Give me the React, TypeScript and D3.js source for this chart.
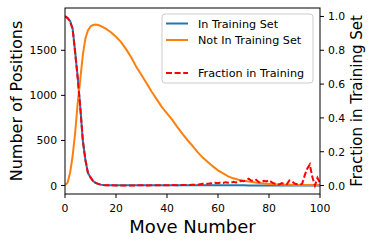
import * as d3 from "d3";

// move numbers sampled for the two count series
const moves = [
  0, 1, 2, 3, 4, 5, 6, 7, 8, 9, 10, 11, 12, 13, 14, 15, 16, 18, 20, 22, 24, 26, 28, 30,
  32, 34, 36, 38, 40, 42, 44, 46, 48, 50, 52, 54, 56, 58, 60, 62, 64, 66, 68, 70, 72, 74,
  76, 78, 80, 82, 84, 86, 88, 90, 92, 94, 96, 98, 100,
];
const inTraining = [
  1878, 1862, 1825, 1740, 1480, 1200, 867, 496, 286, 140, 90, 50, 30, 18, 10, 6, 4, 3, 3,
  2, 2, 2, 2, 2, 2, 2, 2, 2, 2, 2, 2, 2, 2, 2, 2, 2, 2, 2, 2, 2, 2, 2, 2, 2, 1, 1, 1, 1,
  1, 1, 1, 1, 1, 1, 1, 1, 1, 1, 1,
];
const notInTraining = [
  5, 30, 140, 330, 590, 920, 1180, 1450, 1630, 1720, 1765, 1780, 1785, 1780, 1770, 1755,
  1740, 1700, 1650, 1590, 1510, 1420, 1315, 1225, 1135, 1040, 955, 870, 800, 730, 650,
  575, 505, 440, 370, 310, 262, 212, 168, 135, 102, 80, 64, 54, 44, 36, 29, 23, 18, 14,
  11, 9, 8, 7, 6, 5, 5, 4, 4,
];

const fracMoves = [
  0, 1, 2, 3, 4, 5, 6, 7, 8, 9, 10, 11, 12, 13, 14, 15, 16, 18, 20, 22, 24, 26, 28, 30,
  32, 34, 36, 38, 40, 42, 44, 46, 48, 50, 51, 52, 53, 54, 55, 56, 57, 58, 59, 60, 61, 62,
  63, 64, 65, 66, 67, 68, 69, 70, 71, 72, 73, 74, 75, 76, 77, 78, 79, 80, 81, 82, 83, 84,
  85, 86, 87, 88, 89, 90, 91, 92, 93, 94, 95, 96, 97, 98, 99, 100,
];
const fraction = [
  1.0, 0.99, 0.97, 0.925, 0.78, 0.63, 0.46, 0.265, 0.15, 0.075, 0.048, 0.027, 0.016, 0.01,
  0.005, 0.003, 0.002, 0.002, 0.001, 0.001, 0.001, 0.001, 0.001, 0.002, 0.001, 0.002,
  0.002, 0.002, 0.002, 0.003, 0.002, 0.003, 0.003, 0.004, 0.004, 0.005, 0.008, 0.01,
  0.012, 0.01, 0.014, 0.012, 0.016, 0.014, 0.018, 0.015, 0.02, 0.017, 0.016, 0.022,
  0.018, 0.02, 0.028, 0.025, 0.032, 0.04, 0.03, 0.028, 0.034, 0.02, 0.018, 0.028, 0.024,
  0.032, 0.02, 0.012, 0.01, 0.006, 0.014, 0.01, 0.008, 0.03, 0.025, 0.012, 0.008, 0.004,
  0.01, 0.06, 0.1, 0.125, 0.05, 0.0, 0.045, 0.015,
];

const xTicks = [0, 20, 40, 60, 80, 100];
const yTicks = [0, 500, 1000, 1500];
const fracTicks = [0, 0.2, 0.4, 0.6, 0.8, 1.0];
const legendItems = [
  { label: "In Training Set", color: "#1f77b4", dash: "" },
  { label: "Not In Training Set", color: "#ff7f0e", dash: "" },
  { label: "", color: "", dash: "" },
  { label: "Fraction in Training", color: "#ff0000", dash: "6,2.6" },
];

const W = 374;
const H = 244;
const m = { top: 8, right: 54, bottom: 50, left: 65 };
const font = "DejaVu Sans, sans-serif";

export default function App() {
  const x = d3.scaleLinear().domain([0, 100]).range([m.left, W - m.right]);
  const y = d3.scaleLinear().domain([-94, 1969]).range([H - m.bottom, m.top]);
  const yr = d3.scaleLinear().domain([-0.05, 1.05]).range([H - m.bottom, m.top]);

  const countLine = (vals: number[]) =>
    d3
      .line<number>()
      .x((_, i) => x(moves[i]))
      .y((d) => y(d))(vals) ?? "";
  const fracLine =
    d3
      .line<number>()
      .x((_, i) => x(fracMoves[i]))
      .y((d) => yr(d))(fraction) ?? "";

  const x0 = m.left;
  const x1 = W - m.right;
  const y0 = H - m.bottom;
  const y1 = m.top;

  const lgX = 162;
  const lgY = 14;

  return (
    <svg
      width={W}
      height={H}
      style={{ position: "absolute", left: 0, top: 0, background: "#fff" }}
      fontFamily={font}
    >
      <defs>
        <clipPath id="plot">
          <rect x={x0} y={y1} width={x1 - x0} height={y0 - y1} />
        </clipPath>
      </defs>
      <g clipPath="url(#plot)" fill="none">
        <path d={countLine(inTraining)} stroke="#1f77b4" strokeWidth={2} />
        <path d={countLine(notInTraining)} stroke="#ff7f0e" strokeWidth={2} />
        <path d={fracLine} stroke="#ff0000" strokeWidth={2} strokeDasharray="6,2.6" />
      </g>

      {/* frame */}
      <rect x={x0} y={y1} width={x1 - x0} height={y0 - y1} fill="none" stroke="#000" strokeWidth={1} />

      {/* bottom axis */}
      {xTicks.map((t) => (
        <g key={"x" + t}>
          <line x1={x(t)} x2={x(t)} y1={y0} y2={y0 + 4} stroke="#000" />
          <text x={x(t)} y={y0 + 18} fontSize={10.8} textAnchor="middle">
            {t}
          </text>
        </g>
      ))}
      {/* left axis */}
      {yTicks.map((t) => (
        <g key={"y" + t}>
          <line x1={x0 - 4} x2={x0} y1={y(t)} y2={y(t)} stroke="#000" />
          <text x={x0 - 8} y={y(t) + 4} fontSize={10.8} textAnchor="end">
            {t}
          </text>
        </g>
      ))}
      {/* right axis */}
      {fracTicks.map((t) => (
        <g key={"r" + t}>
          <line x1={x1} x2={x1 + 4} y1={yr(t)} y2={yr(t)} stroke="#000" />
          <text x={x1 + 8} y={yr(t) + 4} fontSize={10.8} textAnchor="start">
            {t.toFixed(1)}
          </text>
        </g>
      ))}

      <text x={(x0 + x1) / 2} y={233} fontSize={18} textAnchor="middle">
        Move Number
      </text>
      <text
        transform={`translate(22,${(y0 + y1) / 2}) rotate(-90)`}
        fontSize={16}
        textAnchor="middle"
      >
        Number of Positions
      </text>
      <text
        transform={`translate(362,${(y0 + y1) / 2}) rotate(-90)`}
        fontSize={15}
        textAnchor="middle"
      >
        Fraction in Training Set
      </text>

      {/* legend */}
      <rect
        x={lgX}
        y={lgY}
        width={151}
        height={69}
        rx={3}
        fill="#fff"
        fillOpacity={0.8}
        stroke="#cccccc"
      />
      {legendItems.map((d, i) => {
        const cy = lgY + 9.5 + i * 16.5;
        return (
          <g key={"l" + i}>
            {d.label && (
              <>
                <line
                  x1={lgX + 4}
                  x2={lgX + 26}
                  y1={cy}
                  y2={cy}
                  stroke={d.color}
                  strokeWidth={2}
                  strokeDasharray={d.dash || undefined}
                />
                <text x={lgX + 36} y={cy + 4} fontSize={11.2}>
                  {d.label}
                </text>
              </>
            )}
          </g>
        );
      })}
    </svg>
  );
}
